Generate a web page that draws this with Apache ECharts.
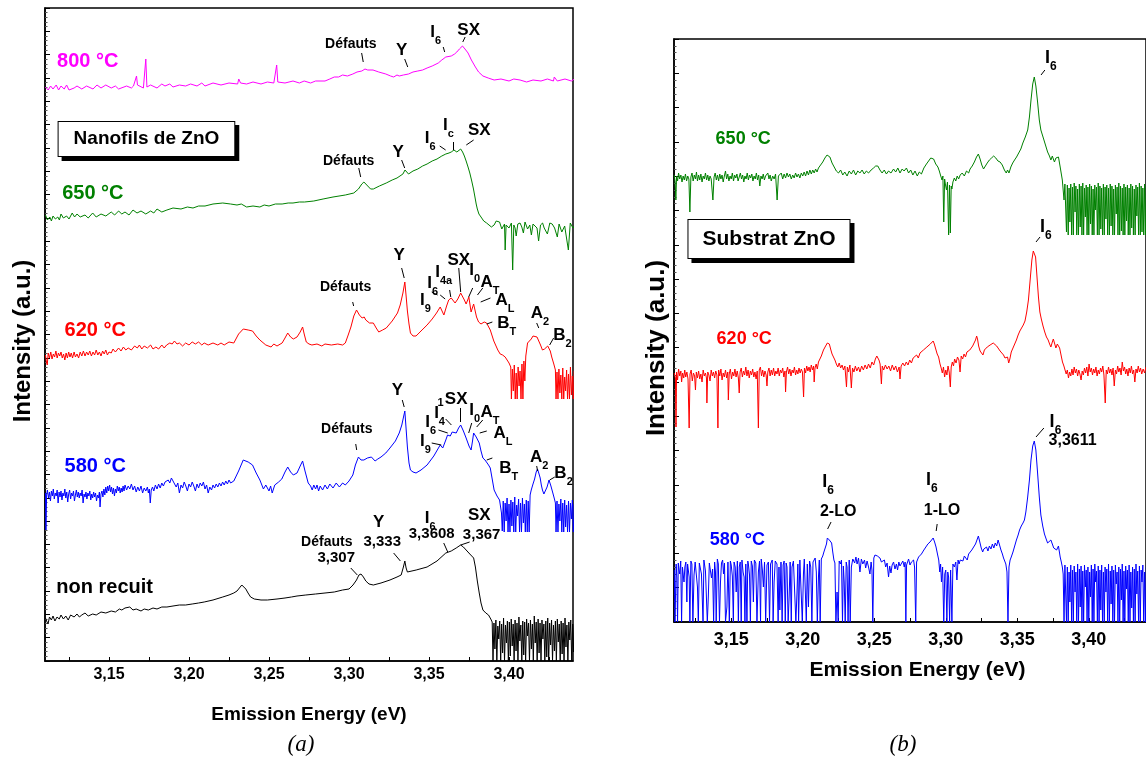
<!DOCTYPE html>
<html>
<head>
<meta charset="utf-8">
<script src="https://cdn.jsdelivr.net/npm/echarts/dist/echarts.min.js"></script>
<style>
html,body{margin:0;padding:0;background:#fff;}
#chart{width:1146px;height:762px;}
</style>
</head>
<body>
<div id="chart"></div>
<script>
// ---------------- DATA (energy in eV, intensity in arbitrary units, log-offset) ----------------
const xTicks = [3.125,3.15,3.175,3.2,3.225,3.25,3.275,3.3,3.325,3.35,3.375,3.4,3.425];
const xLabels = [3.15,3.2,3.25,3.3,3.35,3.4];

// (a) Nanofils de ZnO
const nw800 = [[3.1103,574],[3.1120,571],[3.1135,575],[3.1150,572],[3.1170,576],[3.1185,571],[3.1200,575],[3.1220,572],[3.1235,576],[3.1250,571],[3.1282,573],[3.1300,575],[3.1330,572],[3.1360,575],[3.1400,572],[3.1425,576],[3.1450,573],[3.1480,576],[3.1514,573],[3.1540,575],[3.1560,572],[3.1610,575],[3.1640,573],[3.1653,575],[3.1665,576],[3.1672,585],[3.1678,576],[3.1688,574],[3.1715,573],[3.1723,574],[3.1730,602],[3.1737,574],[3.1760,576],[3.1800,573],[3.1830,577],[3.1850,575],[3.1880,577],[3.1900,574],[3.1940,576],[3.1979,575],[3.2010,577],[3.2050,575],[3.2080,578],[3.2100,575],[3.2150,578],[3.2200,576],[3.2250,578],[3.2304,577],[3.2311,582],[3.2322,578],[3.2360,577],[3.2400,579],[3.2450,577],[3.2490,579],[3.2530,578],[3.2548,596],[3.2555,579],[3.2600,578],[3.2650,580],[3.2690,578],[3.2720,580],[3.2760,578],[3.2791,580],[3.2850,580],[3.2880,582],[3.2908,584],[3.2935,584],[3.2960,586],[3.2990,585],[3.3024,587],[3.3050,589],[3.3080,590],[3.3100,592],[3.3117,591],[3.3150,591],[3.3186,589],[3.3230,587],[3.3260,585],[3.3279,584],[3.3300,586],[3.3314,585],[3.3340,586],[3.3372,587],[3.3400,589],[3.3430,590],[3.3460,591],[3.3488,593],[3.3520,595],[3.3558,598],[3.3580,601],[3.3605,604],[3.3639,605],[3.3660,607],[3.3674,609],[3.3690,612],[3.3709,615],[3.3725,612],[3.3744,608],[3.3765,601],[3.3790,594],[3.3810,589],[3.3837,585],[3.3870,583],[3.3907,581],[3.3950,582],[3.4000,580],[3.4030,582],[3.4069,581],[3.4110,579],[3.4150,581],[3.4200,580],[3.4240,582],[3.4278,580],[3.4283,584],[3.4302,580],[3.4350,582],[3.4390,580],[3.4418,583]];

const nw650 = [[3.1103,446],[3.1115,441],[3.1130,444],[3.1140,440],[3.1150,445],[3.1165,442],[3.1180,444],[3.1190,441],[3.1200,447],[3.1215,443],[3.1235,445],[3.1250,442],[3.1270,448],[3.1285,444],[3.1300,447],[3.1320,444],[3.1350,446],[3.1370,443],[3.1398,448],[3.1420,444],[3.1450,447],[3.1480,445],[3.1514,449],[3.1535,446],[3.1560,450],[3.1580,447],[3.1600,449],[3.1625,446],[3.1650,451],[3.1675,448],[3.1700,450],[3.1730,447],[3.1760,450],[3.1780,448],[3.1800,452],[3.1830,449],[3.1862,451],[3.1900,453],[3.1950,452],[3.1990,454],[3.2025,453],[3.2060,455],[3.2100,455],[3.2150,457],[3.2211,458],[3.2260,457],[3.2300,456],[3.2327,457],[3.2360,454],[3.2400,455],[3.2443,454],[3.2470,456],[3.2500,455],[3.2540,457],[3.2582,457],[3.2620,458],[3.2650,458],[3.2690,459],[3.2722,459],[3.2780,460],[3.2838,462],[3.2900,464],[3.2977,466],[3.3030,468],[3.3059,472],[3.3080,477],[3.3093,479],[3.3105,478],[3.3117,475],[3.3135,472],[3.3152,472],[3.3190,475],[3.3233,478],[3.3270,481],[3.3300,483],[3.3337,487],[3.3350,491],[3.3358,490],[3.3372,487],[3.3400,490],[3.3430,492],[3.3460,495],[3.3488,497],[3.3520,500],[3.3550,502],[3.3580,505],[3.3605,507],[3.3625,508],[3.3639,509],[3.3656,511],[3.3674,509],[3.3698,512],[3.3710,509],[3.3721,505],[3.3732,500],[3.3744,494],[3.3755,488],[3.3767,480],[3.3778,472],[3.3786,465],[3.3795,457],[3.3802,452],[3.3812,447],[3.3825,444],[3.3842,440],[3.3860,438],[3.3875,436],[3.3890,434],[3.3907,436],[3.3920,440],[3.3941,439],[3.3955,432],[3.3965,430],[3.3972,437],[3.3976,411],[3.3982,436],[3.3988,437],[3.4000,433],[3.4015,438],[3.4023,391],[3.4030,436],[3.4038,433],[3.4045,425],[3.4055,437],[3.4069,438],[3.4080,434],[3.4090,428],[3.4100,439],[3.4116,432],[3.4130,436],[3.4140,426],[3.4150,437],[3.4162,437],[3.4175,433],[3.4185,420],[3.4197,436],[3.4210,438],[3.4220,433],[3.4240,427],[3.4255,438],[3.4270,437],[3.4285,433],[3.4302,424],[3.4313,437],[3.4330,429],[3.4348,435],[3.4360,437],[3.4371,411],[3.4383,438],[3.4400,433],[3.4418,437]];

const nw620 = [[3.1103,306],[3.1108,300],[3.1114,296],[3.1120,308],[3.1128,303],[3.1136,309],[3.1144,302],[3.1152,307],[3.1160,304],[3.1168,310],[3.1176,303],[3.1184,308],[3.1192,305],[3.1200,309],[3.1208,303],[3.1216,307],[3.1224,301],[3.1232,308],[3.1240,303],[3.1248,309],[3.1256,304],[3.1264,308],[3.1272,303],[3.1282,309],[3.1290,304],[3.1300,307],[3.1310,303],[3.1320,309],[3.1330,305],[3.1340,310],[3.1350,305],[3.1360,309],[3.1370,306],[3.1380,310],[3.1390,305],[3.1400,309],[3.1410,306],[3.1420,311],[3.1430,306],[3.1440,309],[3.1450,305],[3.1460,310],[3.1470,307],[3.1480,311],[3.1490,306],[3.1500,309],[3.1514,308],[3.1525,312],[3.1540,309],[3.1560,313],[3.1575,310],[3.1590,314],[3.1605,311],[3.1620,313],[3.1640,311],[3.1660,315],[3.1677,313],[3.1690,316],[3.1705,312],[3.1720,315],[3.1740,313],[3.1760,316],[3.1775,312],[3.1793,314],[3.1810,312],[3.1830,316],[3.1845,313],[3.1860,316],[3.1880,318],[3.1895,317],[3.1909,320],[3.1925,317],[3.1940,318],[3.1960,315],[3.1979,318],[3.2000,316],[3.2020,319],[3.2040,317],[3.2060,319],[3.2080,316],[3.2095,318],[3.2120,316],[3.2150,318],[3.2180,316],[3.2200,318],[3.2220,316],[3.2250,319],[3.2280,318],[3.2310,327],[3.2339,332],[3.2370,331],[3.2397,330],[3.2420,325],[3.2443,321],[3.2480,316],[3.2513,314],[3.2530,317],[3.2550,315],[3.2582,318],[3.2600,323],[3.2617,328],[3.2635,324],[3.2652,322],[3.2675,324],[3.2695,329],[3.2710,334],[3.2720,327],[3.2733,319],[3.2750,317],[3.2768,316],[3.2800,317],[3.2830,315],[3.2850,317],[3.2890,316],[3.2930,317],[3.2960,316],[3.2977,318],[3.2995,326],[3.3012,334],[3.3030,345],[3.3047,351],[3.3065,346],[3.3082,343],[3.3095,344],[3.3105,341],[3.3128,338],[3.3152,338],[3.3170,333],[3.3186,329],[3.3210,331],[3.3233,333],[3.3270,340],[3.3303,348],[3.3320,356],[3.3337,368],[3.3349,379],[3.3357,365],[3.3365,350],[3.3375,337],[3.3384,328],[3.3400,325],[3.3419,325],[3.3450,330],[3.3488,336],[3.3520,342],[3.3547,348],[3.3570,354],[3.3593,346],[3.3610,355],[3.3623,361],[3.3639,363],[3.3663,358],[3.3680,362],[3.3698,368],[3.3721,361],[3.3732,357],[3.3749,364],[3.3763,349],[3.3779,357],[3.3797,344],[3.3810,339],[3.3825,337],[3.3845,339],[3.3860,338],[3.3883,331],[3.3905,320],[3.3930,311],[3.3945,307],[3.3960,306],[3.3976,304],[3.4000,298],[3.4011,294],[3.4015,262],[3.4021,292],[3.4027,270],[3.4033,296],[3.4039,262],[3.4045,288],[3.4051,262],[3.4057,294],[3.4063,275],[3.4069,290],[3.4075,262],[3.4081,297],[3.4087,262],[3.4093,300],[3.4099,280],[3.4105,305],[3.4116,318],[3.4139,322],[3.4150,325],[3.4162,326],[3.4175,324],[3.4185,322],[3.4197,316],[3.4209,311],[3.4222,312],[3.4232,313],[3.4242,315],[3.4250,315],[3.4258,310],[3.4267,304],[3.4280,297],[3.4290,291],[3.4294,262],[3.4300,289],[3.4306,262],[3.4312,292],[3.4318,268],[3.4324,286],[3.4330,262],[3.4336,293],[3.4342,262],[3.4348,284],[3.4354,270],[3.4360,291],[3.4366,262],[3.4372,287],[3.4378,262],[3.4384,294],[3.4390,266],[3.4396,285],[3.4402,262],[3.4408,290],[3.4414,262],[3.4420,288]];

const nw580 = [[3.1103,168],[3.1106,131],[3.1110,166],[3.1115,171],[3.1122,163],[3.1128,169],[3.1134,160],[3.1140,170],[3.1146,165],[3.1152,172],[3.1158,162],[3.1164,168],[3.1170,165],[3.1176,171],[3.1182,158],[3.1188,169],[3.1194,164],[3.1200,170],[3.1206,161],[3.1212,168],[3.1218,165],[3.1224,172],[3.1230,163],[3.1236,169],[3.1242,159],[3.1248,167],[3.1254,171],[3.1260,162],[3.1266,168],[3.1272,165],[3.1278,170],[3.1284,160],[3.1290,166],[3.1296,171],[3.1302,164],[3.1308,169],[3.1314,163],[3.1320,168],[3.1326,165],[3.1332,171],[3.1338,158],[3.1344,167],[3.1350,164],[3.1356,169],[3.1362,162],[3.1368,168],[3.1374,165],[3.1380,170],[3.1386,161],[3.1392,167],[3.1398,163],[3.1404,169],[3.1410,164],[3.1416,168],[3.1422,160],[3.1428,166],[3.1434,163],[3.1440,169],[3.1444,154],[3.1450,167],[3.1456,170],[3.1462,164],[3.1468,172],[3.1474,166],[3.1480,174],[3.1486,168],[3.1492,175],[3.1498,170],[3.1504,176],[3.1510,169],[3.1516,174],[3.1522,167],[3.1528,173],[3.1534,165],[3.1540,172],[3.1546,168],[3.1552,175],[3.1558,170],[3.1564,174],[3.1570,168],[3.1576,173],[3.1582,169],[3.1588,175],[3.1594,170],[3.1600,176],[3.1610,171],[3.1620,175],[3.1630,172],[3.1640,177],[3.1650,171],[3.1660,175],[3.1670,169],[3.1680,174],[3.1690,170],[3.1700,175],[3.1710,168],[3.1720,173],[3.1730,170],[3.1740,174],[3.1746,168],[3.1752,172],[3.1758,158],[3.1764,171],[3.1772,174],[3.1780,170],[3.1790,176],[3.1800,172],[3.1810,177],[3.1820,173],[3.1830,178],[3.1840,175],[3.1850,179],[3.1860,177],[3.1870,181],[3.1880,178],[3.1890,183],[3.1900,180],[3.1910,177],[3.1920,174],[3.1930,178],[3.1940,168],[3.1950,176],[3.1960,173],[3.1970,179],[3.1980,175],[3.1990,170],[3.2000,177],[3.2010,174],[3.2020,179],[3.2030,175],[3.2040,170],[3.2050,177],[3.2060,173],[3.2070,178],[3.2080,175],[3.2090,179],[3.2100,172],[3.2110,176],[3.2120,168],[3.2130,174],[3.2141,171],[3.2150,176],[3.2160,173],[3.2170,177],[3.2180,174],[3.2190,178],[3.2200,175],[3.2210,179],[3.2220,176],[3.2230,180],[3.2240,177],[3.2250,181],[3.2260,178],[3.2280,180],[3.2310,190],[3.2339,201],[3.2370,199],[3.2397,196],[3.2420,188],[3.2443,181],[3.2465,172],[3.2480,176],[3.2490,174],[3.2500,170],[3.2510,175],[3.2520,168],[3.2536,176],[3.2560,179],[3.2580,182],[3.2600,189],[3.2617,194],[3.2635,189],[3.2652,186],[3.2675,188],[3.2695,195],[3.2710,200],[3.2725,190],[3.2745,178],[3.2760,175],[3.2770,171],[3.2780,176],[3.2791,172],[3.2800,176],[3.2810,170],[3.2820,175],[3.2835,171],[3.2850,176],[3.2865,172],[3.2880,177],[3.2900,173],[3.2920,178],[3.2940,174],[3.2960,178],[3.2977,176],[3.3000,180],[3.3024,186],[3.3040,196],[3.3059,204],[3.3075,201],[3.3093,201],[3.3115,203],[3.3140,204],[3.3163,200],[3.3180,202],[3.3200,204],[3.3230,208],[3.3256,213],[3.3290,220],[3.3314,228],[3.3330,236],[3.3342,245],[3.3349,250],[3.3357,232],[3.3365,214],[3.3375,198],[3.3384,191],[3.3400,189],[3.3419,188],[3.3450,191],[3.3488,196],[3.3530,205],[3.3570,216],[3.3586,213],[3.3605,221],[3.3616,226],[3.3633,225],[3.3645,229],[3.3656,231],[3.3670,228],[3.3685,233],[3.3698,236],[3.3715,230],[3.3732,223],[3.3750,215],[3.3763,211],[3.3772,220],[3.3779,228],[3.3795,224],[3.3814,218],[3.3825,210],[3.3837,203],[3.3850,201],[3.3860,199],[3.3872,196],[3.3883,193],[3.3895,182],[3.3907,171],[3.3925,165],[3.3941,161],[3.3953,148],[3.3958,130],[3.3964,160],[3.3970,129],[3.3976,158],[3.3982,140],[3.3988,163],[3.3994,129],[3.4000,157],[3.4006,129],[3.4012,161],[3.4018,135],[3.4024,159],[3.4030,129],[3.4036,164],[3.4042,129],[3.4048,156],[3.4054,145],[3.4060,162],[3.4066,129],[3.4072,158],[3.4078,129],[3.4084,163],[3.4090,138],[3.4096,157],[3.4102,129],[3.4108,161],[3.4114,129],[3.4120,160],[3.4126,129],[3.4132,166],[3.4139,171],[3.4150,177],[3.4160,182],[3.4170,189],[3.4178,192],[3.4186,188],[3.4195,183],[3.4202,176],[3.4209,171],[3.4218,167],[3.4227,166],[3.4238,174],[3.4250,181],[3.4262,175],[3.4274,168],[3.4284,162],[3.4290,158],[3.4294,129],[3.4300,160],[3.4306,129],[3.4312,157],[3.4318,140],[3.4324,162],[3.4330,129],[3.4336,158],[3.4342,129],[3.4348,161],[3.4354,134],[3.4360,156],[3.4366,129],[3.4372,160],[3.4378,129],[3.4384,158],[3.4390,142],[3.4396,161],[3.4402,129],[3.4408,157],[3.4414,129],[3.4420,160]];

const nwRaw = [[3.1103,43],[3.1110,40],[3.1119,37],[3.1128,44],[3.1140,41],[3.1150,45],[3.1162,40],[3.1175,44],[3.1189,42],[3.1200,46],[3.1215,42],[3.1230,45],[3.1245,41],[3.1260,46],[3.1282,44],[3.1300,47],[3.1315,44],[3.1330,46],[3.1350,48],[3.1370,45],[3.1398,47],[3.1420,46],[3.1450,49],[3.1480,48],[3.1514,50],[3.1540,49],[3.1565,52],[3.1580,51],[3.1600,53],[3.1630,54],[3.1650,51],[3.1670,52],[3.1700,50],[3.1720,52],[3.1746,51],[3.1775,53],[3.1800,52],[3.1830,54],[3.1862,54],[3.1900,55],[3.1940,56],[3.1979,56],[3.2020,57],[3.2060,58],[3.2095,59],[3.2150,61],[3.2211,64],[3.2250,66],[3.2280,68],[3.2300,70],[3.2315,73],[3.2330,76],[3.2339,75],[3.2355,72],[3.2369,68],[3.2385,64],[3.2408,62],[3.2450,61],[3.2490,61],[3.2550,62],[3.2600,63],[3.2640,64],[3.2675,65],[3.2730,66],[3.2791,67],[3.2850,68],[3.2908,69],[3.2960,71],[3.3000,72],[3.3025,76],[3.3047,81],[3.3062,86],[3.3075,87],[3.3090,84],[3.3105,80],[3.3125,77],[3.3152,76],[3.3200,78],[3.3256,81],[3.3300,84],[3.3326,86],[3.3340,94],[3.3349,100],[3.3357,93],[3.3365,89],[3.3420,91],[3.3488,94],[3.3550,100],[3.3605,108],[3.3639,110],[3.3670,113],[3.3698,116],[3.3715,114],[3.3732,111],[3.3755,107],[3.3779,103],[3.3790,94],[3.3802,80],[3.3814,68],[3.3825,58],[3.3837,51],[3.3855,48],[3.3872,46],[3.3886,42],[3.3895,39],[3.3900,0],[3.3906,38],[3.3912,12],[3.3918,41],[3.3924,0],[3.3930,35],[3.3936,22],[3.3942,40],[3.3948,0],[3.3954,37],[3.3960,8],[3.3966,43],[3.3972,0],[3.3978,36],[3.3984,18],[3.3990,40],[3.3996,0],[3.4002,39],[3.4008,5],[3.4014,42],[3.4020,15],[3.4026,37],[3.4032,0],[3.4038,41],[3.4044,10],[3.4050,38],[3.4056,0],[3.4062,44],[3.4068,20],[3.4074,36],[3.4080,0],[3.4086,40],[3.4092,6],[3.4098,39],[3.4104,0],[3.4110,42],[3.4116,25],[3.4122,38],[3.4128,0],[3.4134,41],[3.4140,12],[3.4146,37],[3.4152,0],[3.4158,45],[3.4164,18],[3.4170,39],[3.4176,0],[3.4182,42],[3.4188,8],[3.4194,38],[3.4200,0],[3.4206,41],[3.4212,22],[3.4218,37],[3.4224,0],[3.4230,40],[3.4236,4],[3.4242,43],[3.4248,0],[3.4254,38],[3.4260,16],[3.4266,41],[3.4272,0],[3.4278,36],[3.4284,10],[3.4290,40],[3.4296,0],[3.4302,42],[3.4308,19],[3.4314,37],[3.4320,0],[3.4326,40],[3.4332,7],[3.4338,38],[3.4344,0],[3.4350,43],[3.4356,14],[3.4362,36],[3.4368,0],[3.4374,39],[3.4380,21],[3.4386,41],[3.4392,0],[3.4398,37],[3.4404,9],[3.4410,40],[3.4416,0],[3.4422,38]];

// (b) Substrat ZnO
const sub650 = [[3.1102,447],[3.1108,440],[3.1113,422],[3.1118,446],[3.1125,441],[3.1132,449],[3.1140,443],[3.1148,447],[3.1156,440],[3.1164,446],[3.1172,442],[3.1180,448],[3.1188,441],[3.1196,446],[3.1204,443],[3.1211,410],[3.1218,445],[3.1226,449],[3.1234,441],[3.1242,447],[3.1250,443],[3.1257,450],[3.1264,441],[3.1272,447],[3.1280,442],[3.1288,448],[3.1296,440],[3.1304,446],[3.1312,443],[3.1320,449],[3.1328,442],[3.1336,447],[3.1344,441],[3.1352,446],[3.1360,443],[3.1372,422],[3.1380,445],[3.1388,449],[3.1396,442],[3.1404,447],[3.1412,441],[3.1420,448],[3.1428,443],[3.1436,447],[3.1444,440],[3.1452,446],[3.1460,451],[3.1468,443],[3.1476,448],[3.1484,441],[3.1492,446],[3.1500,443],[3.1508,449],[3.1516,441],[3.1524,447],[3.1532,444],[3.1540,448],[3.1548,441],[3.1556,445],[3.1564,449],[3.1572,443],[3.1580,447],[3.1588,440],[3.1596,446],[3.1604,443],[3.1612,449],[3.1620,442],[3.1628,447],[3.1636,444],[3.1644,448],[3.1652,441],[3.1660,446],[3.1668,443],[3.1676,449],[3.1684,442],[3.1692,447],[3.1700,436],[3.1708,446],[3.1716,443],[3.1724,448],[3.1732,442],[3.1740,446],[3.1748,444],[3.1756,449],[3.1764,443],[3.1772,447],[3.1780,441],[3.1790,446],[3.1800,443],[3.1810,448],[3.1821,422],[3.1830,446],[3.1840,444],[3.1850,449],[3.1860,443],[3.1870,448],[3.1880,444],[3.1890,449],[3.1900,445],[3.1910,448],[3.1920,443],[3.1930,447],[3.1940,444],[3.1950,449],[3.1960,445],[3.1970,448],[3.1980,444],[3.1990,449],[3.2000,446],[3.2010,450],[3.2020,446],[3.2030,451],[3.2040,447],[3.2050,452],[3.2060,448],[3.2070,452],[3.2080,449],[3.2090,453],[3.2100,450],[3.2110,454],[3.2125,457],[3.2140,460],[3.2155,464],[3.2170,467],[3.2179,468],[3.2190,465],[3.2205,459],[3.2220,455],[3.2235,451],[3.2250,449],[3.2265,452],[3.2280,447],[3.2294,450],[3.2310,446],[3.2325,451],[3.2340,448],[3.2355,452],[3.2370,447],[3.2385,451],[3.2400,449],[3.2415,452],[3.2430,448],[3.2445,451],[3.2460,449],[3.2478,452],[3.2495,454],[3.2510,456],[3.2525,456],[3.2540,452],[3.2555,449],[3.2570,452],[3.2585,448],[3.2600,451],[3.2617,449],[3.2635,453],[3.2650,450],[3.2665,454],[3.2680,449],[3.2695,453],[3.2709,451],[3.2725,454],[3.2740,449],[3.2755,452],[3.2770,447],[3.2785,451],[3.2801,446],[3.2815,450],[3.2830,448],[3.2847,454],[3.2865,458],[3.2880,461],[3.2895,464],[3.2905,466],[3.2915,463],[3.2930,458],[3.2945,455],[3.2955,451],[3.2965,446],[3.2974,442],[3.2980,446],[3.2986,400],[3.2992,443],[3.2997,438],[3.3005,432],[3.3012,440],[3.3020,387],[3.3026,437],[3.3032,389],[3.3038,436],[3.3043,433],[3.3050,440],[3.3060,444],[3.3070,441],[3.3080,446],[3.3090,443],[3.3101,447],[3.3115,449],[3.3130,446],[3.3145,451],[3.3160,449],[3.3170,453],[3.3185,456],[3.3200,460],[3.3215,465],[3.3228,468],[3.3240,463],[3.3252,457],[3.3264,453],[3.3274,455],[3.3290,459],[3.3305,462],[3.3320,464],[3.3335,466],[3.3350,464],[3.3365,461],[3.3380,460],[3.3395,457],[3.3410,452],[3.3423,449],[3.3432,452],[3.3442,449],[3.3455,455],[3.3468,459],[3.3481,462],[3.3495,465],[3.3510,469],[3.3525,473],[3.3539,479],[3.3556,485],[3.3573,492],[3.3585,505],[3.3596,522],[3.3608,538],[3.3619,545],[3.3630,536],[3.3642,520],[3.3654,502],[3.3665,492],[3.3680,485],[3.3695,478],[3.3712,470],[3.3725,466],[3.3735,462],[3.3745,466],[3.3752,463],[3.3760,460],[3.3770,464],[3.3780,466],[3.3788,465],[3.3800,455],[3.3815,442],[3.3822,430],[3.3827,422],[3.3833,438],[3.3838,437],[3.3844,390],[3.3850,437],[3.3856,387],[3.3862,434],[3.3868,400],[3.3874,438],[3.3880,387],[3.3886,435],[3.3892,387],[3.3898,439],[3.3904,410],[3.3910,436],[3.3916,387],[3.3922,433],[3.3928,387],[3.3934,438],[3.3940,395],[3.3946,436],[3.3952,387],[3.3958,439],[3.3964,387],[3.3970,434],[3.3976,405],[3.3982,437],[3.3988,387],[3.3994,435],[3.4000,387],[3.4006,438],[3.4012,398],[3.4018,436],[3.4024,387],[3.4030,433],[3.4036,387],[3.4042,437],[3.4048,412],[3.4054,435],[3.4060,387],[3.4066,439],[3.4072,387],[3.4078,436],[3.4084,393],[3.4090,434],[3.4096,387],[3.4102,438],[3.4108,387],[3.4114,435],[3.4120,403],[3.4126,437],[3.4132,387],[3.4138,434],[3.4144,387],[3.4150,438],[3.4156,396],[3.4162,436],[3.4168,387],[3.4174,433],[3.4180,387],[3.4186,437],[3.4192,408],[3.4198,435],[3.4204,387],[3.4210,439],[3.4216,387],[3.4222,436],[3.4228,391],[3.4234,434],[3.4240,387],[3.4246,438],[3.4252,387],[3.4258,435],[3.4264,401],[3.4270,437],[3.4276,387],[3.4282,434],[3.4288,387],[3.4294,438],[3.4300,394],[3.4306,436],[3.4312,387],[3.4318,433],[3.4324,387],[3.4330,437],[3.4336,406],[3.4342,435],[3.4348,387],[3.4354,439],[3.4360,387],[3.4366,436],[3.4372,390],[3.4378,434],[3.4384,387],[3.4390,438],[3.4396,387],[3.4402,435]];

const sub620 = [[3.1102,249],[3.1110,244],[3.1114,195],[3.1118,250],[3.1125,242],[3.1132,253],[3.1140,246],[3.1148,251],[3.1153,240],[3.1160,249],[3.1168,244],[3.1175,252],[3.1182,245],[3.1190,250],[3.1198,243],[3.1206,194],[3.1212,248],[3.1220,252],[3.1228,241],[3.1236,249],[3.1244,246],[3.1250,232],[3.1256,250],[3.1264,244],[3.1272,251],[3.1280,243],[3.1288,248],[3.1296,240],[3.1304,252],[3.1312,246],[3.1320,249],[3.1327,244],[3.1330,219],[3.1336,250],[3.1344,247],[3.1352,241],[3.1360,252],[3.1368,246],[3.1376,250],[3.1384,244],[3.1392,251],[3.1400,247],[3.1407,194],[3.1412,252],[3.1420,246],[3.1428,253],[3.1436,242],[3.1444,249],[3.1452,245],[3.1460,252],[3.1468,244],[3.1476,250],[3.1480,222],[3.1486,248],[3.1494,253],[3.1502,243],[3.1510,250],[3.1518,246],[3.1526,253],[3.1534,245],[3.1542,251],[3.1550,244],[3.1556,229],[3.1562,250],[3.1570,254],[3.1578,245],[3.1586,251],[3.1594,247],[3.1602,255],[3.1610,246],[3.1618,252],[3.1626,244],[3.1634,251],[3.1642,247],[3.1650,253],[3.1658,245],[3.1666,250],[3.1674,243],[3.1682,251],[3.1690,194],[3.1696,252],[3.1704,255],[3.1712,246],[3.1720,252],[3.1728,245],[3.1736,251],[3.1744,247],[3.1750,236],[3.1756,250],[3.1764,254],[3.1772,246],[3.1780,252],[3.1788,247],[3.1796,254],[3.1804,246],[3.1812,251],[3.1820,248],[3.1828,254],[3.1836,246],[3.1844,252],[3.1852,249],[3.1860,254],[3.1868,245],[3.1876,251],[3.1880,230],[3.1886,250],[3.1894,255],[3.1902,248],[3.1910,253],[3.1918,246],[3.1926,252],[3.1934,249],[3.1942,255],[3.1950,247],[3.1958,252],[3.1966,248],[3.1974,254],[3.1982,249],[3.1990,253],[3.1998,250],[3.2006,225],[3.2012,254],[3.2020,249],[3.2028,256],[3.2036,251],[3.2044,255],[3.2052,250],[3.2060,257],[3.2068,252],[3.2076,256],[3.2080,240],[3.2086,254],[3.2094,258],[3.2102,253],[3.2110,260],[3.2120,262],[3.2130,266],[3.2145,272],[3.2160,276],[3.2172,279],[3.2179,280],[3.2186,278],[3.2195,273],[3.2205,268],[3.2215,265],[3.2225,262],[3.2235,258],[3.2245,255],[3.2255,259],[3.2265,254],[3.2275,257],[3.2285,252],[3.2295,256],[3.2306,235],[3.2312,255],[3.2320,250],[3.2330,257],[3.2340,234],[3.2348,254],[3.2358,250],[3.2368,256],[3.2378,251],[3.2390,255],[3.2400,250],[3.2412,256],[3.2424,252],[3.2436,257],[3.2448,253],[3.2460,258],[3.2472,254],[3.2484,260],[3.2496,257],[3.2508,263],[3.2518,266],[3.2525,268],[3.2533,262],[3.2541,258],[3.2550,238],[3.2556,256],[3.2566,252],[3.2578,257],[3.2590,253],[3.2602,256],[3.2614,251],[3.2626,257],[3.2638,252],[3.2650,256],[3.2662,250],[3.2674,255],[3.2680,243],[3.2688,256],[3.2700,259],[3.2712,256],[3.2724,260],[3.2736,257],[3.2748,262],[3.2760,259],[3.2772,264],[3.2784,262],[3.2796,267],[3.2808,264],[3.2820,269],[3.2832,267],[3.2844,272],[3.2856,271],[3.2868,275],[3.2880,276],[3.2892,278],[3.2904,280],[3.2912,281],[3.2920,278],[3.2930,273],[3.2940,268],[3.2950,265],[3.2960,258],[3.2968,254],[3.2976,249],[3.2984,255],[3.2992,245],[3.3000,252],[3.3008,247],[3.3016,256],[3.3024,250],[3.3032,235],[3.3038,255],[3.3046,260],[3.3054,256],[3.3062,263],[3.3072,259],[3.3082,265],[3.3092,262],[3.3100,250],[3.3108,266],[3.3118,263],[3.3128,268],[3.3138,265],[3.3148,270],[3.3158,268],[3.3168,272],[3.3178,271],[3.3188,276],[3.3198,278],[3.3208,282],[3.3216,286],[3.3222,283],[3.3230,276],[3.3240,271],[3.3250,269],[3.3260,267],[3.3270,272],[3.3280,270],[3.3290,275],[3.3300,273],[3.3310,277],[3.3320,276],[3.3332,279],[3.3344,278],[3.3356,276],[3.3368,274],[3.3380,271],[3.3392,269],[3.3404,267],[3.3414,264],[3.3423,262],[3.3432,265],[3.3440,259],[3.3448,263],[3.3458,270],[3.3470,274],[3.3482,278],[3.3494,282],[3.3506,287],[3.3518,291],[3.3530,294],[3.3542,297],[3.3554,301],[3.3566,310],[3.3578,322],[3.3590,342],[3.3602,362],[3.3612,371],[3.3620,372],[3.3628,365],[3.3638,345],[3.3648,325],[3.3658,310],[3.3668,303],[3.3680,296],[3.3692,290],[3.3704,285],[3.3716,282],[3.3726,278],[3.3735,275],[3.3745,280],[3.3752,283],[3.3760,279],[3.3770,274],[3.3780,278],[3.3788,280],[3.3796,274],[3.3806,267],[3.3816,260],[3.3826,256],[3.3834,252],[3.3842,248],[3.3850,252],[3.3858,244],[3.3866,250],[3.3874,246],[3.3882,253],[3.3890,247],[3.3898,255],[3.3906,249],[3.3914,253],[3.3922,246],[3.3930,252],[3.3938,248],[3.3946,242],[3.3954,251],[3.3962,247],[3.3970,254],[3.3978,249],[3.3986,255],[3.3994,246],[3.4002,258],[3.4010,250],[3.4018,254],[3.4026,247],[3.4034,253],[3.4042,249],[3.4050,255],[3.4058,246],[3.4066,252],[3.4074,248],[3.4082,254],[3.4090,250],[3.4098,256],[3.4106,247],[3.4115,219],[3.4122,252],[3.4130,248],[3.4138,255],[3.4146,249],[3.4154,253],[3.4162,247],[3.4170,254],[3.4178,236],[3.4186,252],[3.4194,248],[3.4202,256],[3.4210,250],[3.4218,254],[3.4226,247],[3.4234,260],[3.4242,251],[3.4250,255],[3.4258,248],[3.4266,253],[3.4274,246],[3.4282,254],[3.4290,249],[3.4298,256],[3.4306,248],[3.4314,252],[3.4322,240],[3.4330,253],[3.4338,249],[3.4346,256],[3.4354,250],[3.4362,254],[3.4370,248],[3.4380,253],[3.4390,249],[3.4400,255]];

const sub580 = [[3.1102,52],[3.1107,0],[3.1115,58],[3.1120,44],[3.1125,0],[3.1130,59],[3.1135,52],[3.1140,48],[3.1147,61],[3.1153,0],[3.1159,55],[3.1165,57],[3.1170,40],[3.1176,55],[3.1183,60],[3.1190,20],[3.1195,58],[3.1200,60],[3.1206,45],[3.1211,0],[3.1218,61],[3.1225,58],[3.1232,0],[3.1240,47],[3.1248,60],[3.1257,62],[3.1264,35],[3.1270,0],[3.1277,59],[3.1285,57],[3.1292,48],[3.1303,0],[3.1309,62],[3.1315,60],[3.1320,51],[3.1326,49],[3.1333,0],[3.1340,25],[3.1347,59],[3.1355,61],[3.1362,44],[3.1370,53],[3.1377,0],[3.1384,60],[3.1390,50],[3.1395,0],[3.1403,63],[3.1410,58],[3.1418,0],[3.1425,40],[3.1432,59],[3.1440,62],[3.1446,48],[3.1453,59],[3.1460,0],[3.1470,15],[3.1477,60],[3.1487,0],[3.1494,61],[3.1500,57],[3.1508,46],[3.1515,0],[3.1520,60],[3.1528,55],[3.1535,30],[3.1543,61],[3.1550,0],[3.1556,55],[3.1563,60],[3.1570,0],[3.1575,62],[3.1583,50],[3.1590,45],[3.1596,0],[3.1602,58],[3.1610,0],[3.1616,61],[3.1620,58],[3.1628,47],[3.1634,0],[3.1640,61],[3.1648,56],[3.1655,20],[3.1662,62],[3.1672,59],[3.1680,0],[3.1690,50],[3.1698,61],[3.1705,0],[3.1710,63],[3.1718,52],[3.1725,35],[3.1733,60],[3.1741,0],[3.1750,57],[3.1760,60],[3.1768,0],[3.1775,58],[3.1787,62],[3.1793,0],[3.1800,40],[3.1808,61],[3.1820,58],[3.1828,0],[3.1834,55],[3.1840,12],[3.1848,60],[3.1856,0],[3.1863,57],[3.1870,61],[3.1878,0],[3.1884,59],[3.1890,55],[3.1898,0],[3.1905,25],[3.1912,60],[3.1920,0],[3.1925,55],[3.1935,61],[3.1945,63],[3.1952,0],[3.1960,30],[3.1966,58],[3.1971,0],[3.1980,62],[3.1990,60],[3.1997,0],[3.2005,48],[3.2011,63],[3.2017,62],[3.2025,0],[3.2032,58],[3.2040,15],[3.2048,61],[3.2056,55],[3.2064,0],[3.2072,60],[3.2080,58],[3.2087,64],[3.2095,50],[3.2102,0],[3.2110,45],[3.2116,62],[3.2122,0],[3.2130,63],[3.2140,66],[3.2148,70],[3.2156,72],[3.2166,78],[3.2172,84],[3.2179,84],[3.2186,82],[3.2193,80],[3.2202,79],[3.2210,70],[3.2218,62],[3.2225,59],[3.2232,0],[3.2240,30],[3.2248,0],[3.2255,61],[3.2263,58],[3.2271,62],[3.2278,0],[3.2284,56],[3.2290,40],[3.2297,0],[3.2304,60],[3.2310,55],[3.2317,0],[3.2325,62],[3.2332,0],[3.2340,55],[3.2350,63],[3.2363,59],[3.2372,65],[3.2380,58],[3.2390,64],[3.2400,50],[3.2410,63],[3.2420,58],[3.2432,62],[3.2440,54],[3.2450,61],[3.2460,55],[3.2470,48],[3.2478,60],[3.2484,52],[3.2490,0],[3.2497,64],[3.2505,67],[3.2513,69],[3.2522,66],[3.2530,68],[3.2540,64],[3.2550,60],[3.2560,58],[3.2571,62],[3.2580,55],[3.2590,59],[3.2600,45],[3.2608,56],[3.2617,49],[3.2625,57],[3.2635,60],[3.2645,53],[3.2655,58],[3.2663,52],[3.2672,60],[3.2680,56],[3.2690,58],[3.2700,61],[3.2710,55],[3.2716,60],[3.2721,0],[3.2726,57],[3.2732,59],[3.2740,63],[3.2750,57],[3.2760,60],[3.2768,58],[3.2775,62],[3.2782,55],[3.2790,0],[3.2796,60],[3.2801,62],[3.2810,65],[3.2820,63],[3.2830,68],[3.2840,66],[3.2847,72],[3.2860,74],[3.2875,78],[3.2890,80],[3.2900,82],[3.2912,84],[3.2922,80],[3.2932,75],[3.2942,68],[3.2951,62],[3.2958,50],[3.2964,58],[3.2970,40],[3.2978,55],[3.2986,0],[3.2993,48],[3.3000,52],[3.3008,0],[3.3014,50],[3.3020,45],[3.3027,0],[3.3034,52],[3.3043,0],[3.3050,58],[3.3060,55],[3.3070,60],[3.3078,42],[3.3086,62],[3.3093,58],[3.3101,62],[3.3110,64],[3.3120,61],[3.3130,66],[3.3140,65],[3.3150,62],[3.3160,68],[3.3170,69],[3.3182,72],[3.3195,74],[3.3208,78],[3.3218,82],[3.3228,86],[3.3238,80],[3.3248,74],[3.3258,70],[3.3266,73],[3.3274,72],[3.3285,75],[3.3295,71],[3.3305,76],[3.3316,73],[3.3326,78],[3.3336,74],[3.3346,79],[3.3356,76],[3.3366,82],[3.3376,77],[3.3386,72],[3.3396,68],[3.3404,64],[3.3412,62],[3.3420,58],[3.3428,50],[3.3435,0],[3.3442,55],[3.3450,62],[3.3458,65],[3.3470,70],[3.3482,76],[3.3494,82],[3.3506,87],[3.3516,92],[3.3528,96],[3.3540,99],[3.3550,102],[3.3560,110],[3.3572,124],[3.3585,142],[3.3596,162],[3.3608,176],[3.3619,181],[3.3630,172],[3.3642,149],[3.3654,125],[3.3665,107],[3.3678,96],[3.3690,88],[3.3702,83],[3.3712,79],[3.3722,77],[3.3735,82],[3.3745,80],[3.3755,74],[3.3765,76],[3.3775,72],[3.3788,76],[3.3800,65],[3.3808,60],[3.3815,55],[3.3821,48],[3.3827,0],[3.3833,57],[3.3838,59],[3.3844,0],[3.3850,55],[3.3856,0],[3.3862,50],[3.3868,20],[3.3874,57],[3.3880,0],[3.3886,52],[3.3892,0],[3.3898,56],[3.3904,30],[3.3910,50],[3.3916,0],[3.3922,58],[3.3928,0],[3.3934,53],[3.3940,15],[3.3946,56],[3.3952,0],[3.3958,51],[3.3964,0],[3.3970,57],[3.3976,35],[3.3982,52],[3.3988,0],[3.3994,55],[3.4000,0],[3.4006,50],[3.4012,25],[3.4018,57],[3.4024,0],[3.4030,53],[3.4036,0],[3.4042,58],[3.4048,40],[3.4054,51],[3.4060,0],[3.4066,56],[3.4072,0],[3.4078,52],[3.4084,12],[3.4090,57],[3.4096,0],[3.4102,50],[3.4108,0],[3.4114,55],[3.4120,30],[3.4126,53],[3.4132,0],[3.4138,58],[3.4144,0],[3.4150,51],[3.4156,18],[3.4162,56],[3.4168,0],[3.4174,52],[3.4180,0],[3.4186,57],[3.4192,38],[3.4198,50],[3.4204,0],[3.4210,55],[3.4216,0],[3.4222,53],[3.4228,22],[3.4234,58],[3.4240,0],[3.4246,51],[3.4252,0],[3.4258,56],[3.4264,33],[3.4270,52],[3.4276,0],[3.4282,57],[3.4288,0],[3.4294,50],[3.4300,14],[3.4306,55],[3.4312,0],[3.4318,53],[3.4324,0],[3.4330,58],[3.4336,28],[3.4342,51],[3.4348,0],[3.4354,56],[3.4360,0],[3.4366,52],[3.4372,40],[3.4378,57],[3.4384,0],[3.4390,50],[3.4396,0],[3.4402,55]];

// ---------------- STYLE / LAYOUT ----------------
const FONT = '"Liberation Sans", Arial, Helvetica, sans-serif';
const C = {mag:'#FF00FF', grn:'#008000', red:'#FF0000', blu:'#0000FF', blk:'#000000'};
const S = (b, s) => '{big|' + b + '}{sub|' + s + '}';

// annotation rows: [energy, intensity, text, kind, color]
const annA = [
  [3.1367,600,'800 °C','t',C.mag],
  [3.3011,617,'Défauts','d'],[3.3329,611,'{big|Y}','b'],[3.3542,629,S('I','6'),'b'],[3.3748,631,'{big|SX}','b'],
  [3.1399,468,'650 °C','t',C.grn],
  [3.2998,500,'Défauts','d'],[3.3308,509,'{big|Y}','b'],[3.3508,523,S('I','6'),'b'],[3.3621,536,S('I','c'),'b'],[3.3814,531,'{big|SX}','b'],
  [3.1414,331,'620 °C','t',C.red],
  [3.2979,374,'Défauts','d'],[3.3314,406,'{big|Y}','b'],[3.3478,361,S('I','9'),'b'],[3.3523,378,S('I','6'),'b'],[3.3592,389,S('I','4a'),'b'],[3.3686,401,'{big|SX}','b'],[3.3786,391,S('I','0'),'b'],[3.3881,379,S('A','T'),'b'],[3.3975,361,S('A','L'),'b'],[3.3986,338,S('B','T'),'b'],[3.4194,348,S('A','2'),'b'],[3.4334,326,S('B','2'),'b'],
  [3.1414,195,'580 °C','t',C.blu],
  [3.2986,232,'Défauts','d'],[3.3303,271,'{big|Y}','b'],[3.3478,220,S('I','9'),'b'],[3.3511,239,S('I','6'),'b'],[3.3566,248,S('I','4'),'b'],[3.3573,258,'1','s'],[3.3670,262,'{big|SX}','b'],[3.3786,251,S('I','0'),'b'],[3.3881,249,S('A','T'),'b'],[3.3963,228,S('A','L'),'b'],[3.3998,193,S('B','T'),'b'],[3.4188,204,S('A','2'),'b'],[3.4341,188,S('B','2'),'b'],
  [3.1473,74,'non recuit','t',C.blk],
  [3.2861,119,'Défauts','d'],[3.2920,103,'3,307','n'],[3.3186,139,'{big|Y}','b'],[3.3208,119,'3,333','n'],[3.3508,143,S('I','6'),'b'],[3.3517,127,'3,3608','n'],[3.3814,146,'{big|SX}','b'],[3.3829,126,'3,367','n']
];
const leadA = [
  [[3.3079,608],[3.3089,599]],[[3.3348,602],[3.3367,594]],[[3.3589,614],[3.3598,609]],[[3.3726,624],[3.3711,619]],
  [[3.3061,493],[3.3073,484]],[[3.3329,501],[3.3348,493]],[[3.3567,515],[3.3604,511]],[[3.3651,519],[3.3651,511]],[[3.3779,521],[3.3733,516]],
  [[3.3023,359],[3.3029,355]],[[3.3329,393],[3.3345,383]],[[3.3517,369],[3.3554,366]],[[3.3570,366],[3.3601,362]],[[3.3629,371],[3.3636,364]],[[3.3686,393],[3.3698,369]],[[3.3773,373],[3.3748,364]],[[3.3836,373],[3.3803,366]],[[3.3884,363],[3.3823,359]],[[3.3896,339],[3.3861,337]],[[3.4173,338],[3.4186,333]],[[3.4279,323],[3.4254,316]],
  [[3.3042,217],[3.3048,211]],[[3.3333,261],[3.3345,254]],[[3.3517,218],[3.3577,216]],[[3.3559,231],[3.3617,228]],[[3.3604,242],[3.3640,236]],[[3.3698,253],[3.3698,239]],[[3.3767,238],[3.3748,228]],[[3.3836,241],[3.3798,234]],[[3.3861,230],[3.3817,228]],[[3.3896,203],[3.3861,201]],[[3.4173,195],[3.4179,190]],[[3.4286,184],[3.4254,181]],
  [[3.3011,93],[3.3052,86]],[[3.3279,108],[3.3321,100]],[[3.3592,118],[3.3617,109]],[[3.3754,119],[3.3698,116]]
];
const annB = [
  [3.1584,483,'650 °C','t',C.grn],[3.3735,564,S('I','6'),'b'],
  [3.1591,283,'620 °C','t',C.red],[3.3700,395,S('I','6'),'b'],
  [3.1543,82,'580 °C','t',C.blu],[3.3767,200,S('I','6'),'b'],[3.3887,181,'3,3611','n'],
  [3.2177,140,S('I','6'),'b'],[3.2248,110,'2-LO','n'],[3.2903,142,S('I','6'),'b'],[3.2974,111,'1-LO','n']
];
const leadB = [
  [[3.3693,552],[3.3666,547]],[[3.3659,385],[3.3631,380]],[[3.3686,194],[3.3631,185]],[[3.2198,100],[3.2174,93]],[[3.2940,98],[3.2933,91]]
];

function annSeries(list, gi, st) {
  const rich = {
    big: {fontSize: st.b, fontWeight: 'bold', fontFamily: FONT, color: '#000', lineHeight: st.b + 6, verticalAlign: 'top'},
    sub: {fontSize: st.s, fontWeight: 'bold', fontFamily: FONT, color: '#000', lineHeight: st.s + 1, verticalAlign: 'bottom'}
  };
  const sizes = {d: st.d, n: st.n, t: st.t, s: st.s, b: st.b};
  return {
    type: 'scatter', xAxisIndex: gi, yAxisIndex: gi, symbolSize: 0, silent: true, z: 6,
    itemStyle: {color: '#000', opacity: 1},
    data: list.map(a => ({
      value: [a[0], a[1]],
      label: {
        show: true, position: [0, 0], align: 'center', verticalAlign: 'middle',
        offset: a[3] === 'b' ? [0, 3] : [0, 0],
        formatter: () => a[2], opacity: 1,
        color: a[4] || '#000', fontFamily: FONT, fontWeight: 'bold', fontSize: sizes[a[3]], rich: rich,
        textBorderWidth: 0
      }
    }))
  };
}
function leadSeries(list, gi) {
  return {
    type: 'lines', coordinateSystem: 'cartesian2d', xAxisIndex: gi, yAxisIndex: gi, silent: true, z: 5,
    lineStyle: {color: '#000', width: 1, opacity: 1},
    data: list.map(c => ({coords: c}))
  };
}
function boxSeries(x, y, text, gi, fs, pad) {
  return {
    type: 'scatter', xAxisIndex: gi, yAxisIndex: gi, symbolSize: 0, silent: true, z: 7,
    itemStyle: {color: '#000', opacity: 1},
    data: [{value: [x, y], label: {
      show: true, position: [0, 0], align: 'center', verticalAlign: 'middle', formatter: () => text, opacity: 1,
      fontFamily: FONT, fontWeight: 'bold', fontSize: fs, color: '#000', lineHeight: pad[2], textBorderWidth: 0,
      backgroundColor: '#ffffff', borderColor: '#000', borderWidth: 1, padding: [pad[0], pad[1]],
      shadowColor: '#000', shadowOffsetX: 4, shadowOffsetY: 4, shadowBlur: 0
    }}]
  };
}
function specSeries(data, color, gi) {
  return {type: 'line', xAxisIndex: gi, yAxisIndex: gi, data: data, showSymbol: false, symbol: 'none',
    lineStyle: {color: color, width: 1}, itemStyle: {color: color}, silent: true, z: 3, clip: true};
}
function xAx(gi, fs, margin, nameFs, nameGap, namePad) {
  return {
    type: 'value', gridIndex: gi, min: 3.11, max: 3.44,
    axisLine: {show: true, onZero: false, lineStyle: {color: '#000', width: 1.5}},
    axisTick: {show: true, inside: true, length: 4, customValues: xTicks, lineStyle: {color: '#000', width: 1}},
    axisLabel: {show: true, customValues: xLabels, formatter: v => v.toFixed(2).replace('.', ','),
      fontFamily: FONT, fontWeight: 'bold', fontSize: fs, color: '#000', margin: margin},
    splitLine: {show: false},
    name: 'Emission Energy (eV)', nameLocation: 'middle', nameGap: nameGap,
    nameTextStyle: {fontFamily: FONT, fontWeight: 'bold', fontSize: nameFs, color: '#000', padding: namePad}
  };
}
function yAx(gi, max, n, nameFs, nameGap, namePad) {
  return {
    type: 'value', gridIndex: gi, min: 0, max: max, interval: max / n,
    axisLine: {show: true, onZero: false, lineStyle: {color: '#000', width: 1.5}},
    axisTick: {show: true, inside: true, length: 5, lineStyle: {color: '#000', width: 1}},
    minorTick: {show: true, splitNumber: 5, length: 2.5, lineStyle: {color: '#555', width: 1}},
    axisLabel: {show: false}, splitLine: {show: false}, minorSplitLine: {show: false},
    name: 'Intensity (a.u.)', nameLocation: 'middle', nameGap: nameGap,
    nameTextStyle: {fontFamily: FONT, fontWeight: 'bold', fontSize: nameFs, color: '#000', padding: namePad}
  };
}

const chart = echarts.init(document.getElementById('chart'), null, {renderer: 'canvas'});
chart.setOption({
  backgroundColor: '#fff',
  animation: false,
  grid: [
    {left: 45, top: 8, width: 528, height: 653, show: true, borderColor: '#000', borderWidth: 1.5, backgroundColor: 'transparent'},
    {left: 674, top: 39, width: 477, height: 583, show: true, borderColor: '#000', borderWidth: 1.5, backgroundColor: 'transparent'}
  ],
  xAxis: [xAx(0, 16, 6, 19, 44, [0, 0, 0, 0]), xAx(1, 18, 9, 21, 38, [0, 0, 0, 15])],
  yAxis: [yAx(0, 653, 28, 24, 10, [0, 13, 0, 0]), yAx(1, 583, 17, 26, 4, [0, 35, 0, 0])],
  graphic: [
    {type: 'text', x: 301, y: 745, style: {text: '(a)', align: 'center', verticalAlign: 'middle', font: 'italic 23px "Liberation Serif", "Times New Roman", serif', fill: '#000'}},
    {type: 'text', x: 903, y: 745, style: {text: '(b)', align: 'center', verticalAlign: 'middle', font: 'italic 23px "Liberation Serif", "Times New Roman", serif', fill: '#000'}}
  ],
  series: [
    specSeries(nw800, C.mag, 0),
    specSeries(nw650, C.grn, 0),
    specSeries(nw620, C.red, 0),
    specSeries(nw580, C.blu, 0),
    specSeries(nwRaw, C.blk, 0),
    specSeries(sub650, C.grn, 1),
    specSeries(sub620, C.red, 1),
    specSeries(sub580, C.blu, 1),
    leadSeries(leadA, 0),
    leadSeries(leadB, 1),
    annSeries(annA, 0, {b: 17, s: 11, d: 14, n: 15, t: 20}),
    annSeries(annB, 1, {b: 18, s: 12, d: 14, n: 16, t: 18}),
    boxSeries(3.1734, 522, 'Nanofils de ZnO', 0, 19, [7, 15, 20]),
    boxSeries(3.1764, 383, 'Substrat ZnO', 1, 21, [7, 14, 24])
  ]
});
</script>
</body>
</html>
